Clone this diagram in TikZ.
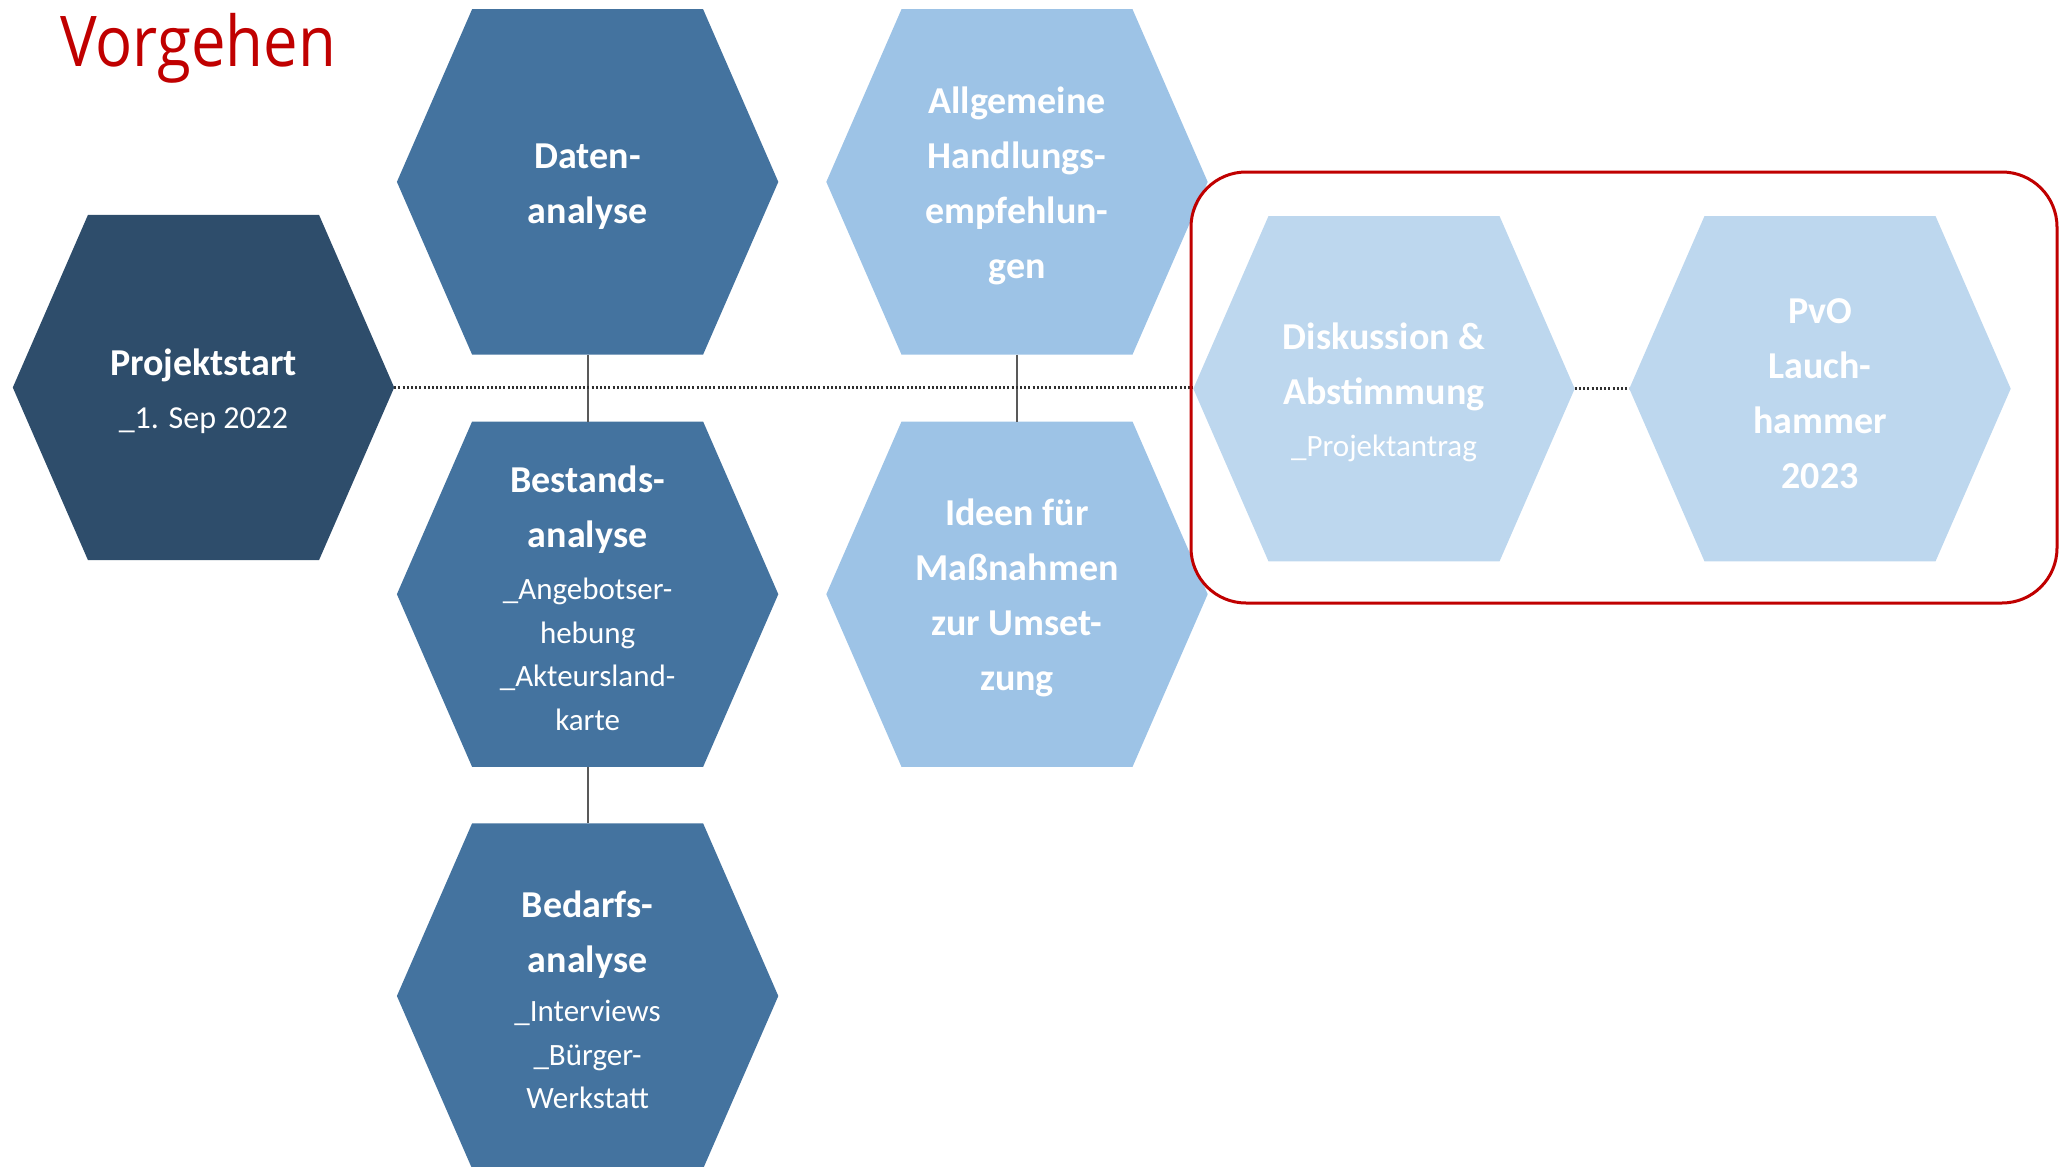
\documentclass[tikz,border=0pt]{standalone}
\usepackage{fontspec}
\setmainfont{Carlito}
\newfontfamily\titlefont[FakeStretch=0.88]{Open Sans}
\usetikzlibrary{backgrounds}
\definecolor{cNavy}{HTML}{2E4D6B}
\definecolor{cMid}{HTML}{44739F}
\definecolor{cLight}{HTML}{9DC3E6}
\definecolor{cPale}{HTML}{BDD7EE}
\definecolor{cRed}{HTML}{C00000}
\definecolor{cLine}{HTML}{595959}
\definecolor{cDot}{HTML}{303030}
\newcommand{\hexfill}[2]{\fill[#2] ([xshift=-115.5pt]#1.north) -- ([xshift=115.5pt]#1.north) -- (#1.east) -- ([xshift=115.5pt]#1.south) -- ([xshift=-115.5pt]#1.south) -- (#1.west) -- cycle;}
\newcommand{\subfnt}{\mdseries\fontsize{31}{43.5}\selectfont}
\newcommand{\hs}{\rule{0pt}{34pt}}
\begin{document}
\begin{tikzpicture}[x=1pt,y=-1pt,
  hexbox/.style={rectangle, minimum width=381pt, minimum height=345pt, inner sep=0pt,
    align=center, text=white, font=\fontsize{38}{43.5}\selectfont\bfseries},
  vline/.style={draw=cLine, line width=2pt},
  dotline/.style={draw=cDot, line width=2.6pt, dash pattern=on 2pt off 2.2pt},
  redbox/.style={draw=cRed, line width=3pt, rounded corners=55pt}
]
\useasboundingbox (0,0) rectangle (2059,1167);

\node[anchor=base west, text=cRed, font=\titlefont\fontsize{70}{80}\selectfont, inner sep=0pt] (title) at (60,66) {Vorgehen};

\node[hexbox] (P) at (203.5,387.5) {\hs Projektstart\\[9pt]{\subfnt\fontsize{32}{43.5}\selectfont \_1. Sep 2022}};
\node[hexbox] (D) at (587.6,181.9) {\hs Daten-\\[11.5pt]analyse};
\node[hexbox] (B) at (587.6,594.2) {\hs Bestands-\\[11.5pt]analyse\\[9pt]{\subfnt \_Angebotser-}\\{\subfnt hebung}\\{\subfnt \_Akteursland-}\\{\subfnt karte}};
\node[hexbox] (Bd) at (587.6,996) {\hs Bedarfs-\\[11.5pt]analyse\\[6pt]{\subfnt \_Interviews}\\{\subfnt \_Bürger-}\\{\subfnt Werkstatt}};
\node[hexbox] (A) at (1017,181.9) {\hs Allgemeine\\[11.5pt]Handlungs-\\[11.5pt]empfehlun-\\[11.5pt]gen};
\node[hexbox] (I) at (1017,594.2) {\hs Ideen für\\[11.5pt]Maßnahmen\\[11.5pt]zur Umset-\\[11.5pt]zung};
\node[hexbox] (Di) at (1384,388.7) {\hs Diskussion \&\\[11.5pt]Abstimmung\\[9pt]{\subfnt \_Projektantrag}};
\node[hexbox] (Pv) at (1820,388.7) {\hs PvO\\[11.5pt]Lauch-\\[11.5pt]hammer\\[11.5pt]2023};

\begin{pgfonlayer}{background}
\hexfill{P}{cNavy}
\hexfill{D}{cMid}
\hexfill{B}{cMid}
\hexfill{Bd}{cMid}
\hexfill{A}{cLight}
\hexfill{I}{cLight}
\hexfill{Di}{cPale}
\hexfill{Pv}{cPale}
\end{pgfonlayer}

\draw[vline] (D.south) -- (B.north);
\draw[vline] (B.south) -- (Bd.north);
\draw[vline] (A.south) -- (I.north);
\draw[dotline] (P.east) -- (P.east -| Di.west);
\draw[dotline] (Di.east) -- (Pv.west);

\coordinate (rtl) at (1191,172);
\coordinate (rbr) at (2057,603);
\draw[redbox] (rtl) rectangle (rbr);
\end{tikzpicture}
\end{document}
